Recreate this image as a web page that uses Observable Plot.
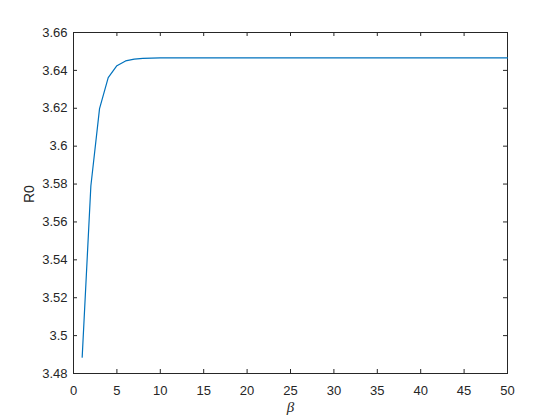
<!DOCTYPE html>
<html>
<head>
<meta charset="utf-8">
<script src="https://cdn.jsdelivr.net/npm/d3@7"></script>
<script src="https://cdn.jsdelivr.net/npm/@observablehq/plot@0.6"></script>
<style>
  html, body { margin: 0; padding: 0; background: #ffffff; }
</style>
</head>
<body>
<div id="chart"></div>
<script>
const beta = [1,2,3,4,5,6,7,8,9,10,11,12,13,14,15,16,17,18,19,20,21,22,23,24,25,26,27,28,29,30,31,32,33,34,35,36,37,38,39,40,41,42,43,44,45,46,47,48,49,50];
const r0 = [3.4886,3.5790,3.6198,3.6362,3.6425,3.6450,3.6459,3.6463,3.6465,3.6466,
            3.6466,3.6466,3.6466,3.6466,3.6466,3.6466,3.6466,3.6466,3.6466,3.6466,
            3.6466,3.6466,3.6466,3.6466,3.6466,3.6466,3.6466,3.6466,3.6466,3.6466,
            3.6466,3.6466,3.6466,3.6466,3.6466,3.6466,3.6466,3.6466,3.6466,3.6466,
            3.6466,3.6466,3.6466,3.6466,3.6466,3.6466,3.6466,3.6466,3.6466,3.6466];
const xTicks = [0,5,10,15,20,25,30,35,40,45,50];
const yTicks = [3.48,3.50,3.52,3.54,3.56,3.58,3.60,3.62,3.64,3.66];
const xLabel = "β";
const yLabel = "R0";

const data = beta.map((b, i) => ({beta: b, r0: r0[i]}));

const W = 560, H = 420, mT = 32, mB = 47, mL = 73, mR = 53;
const innerH = H - mT - mB, innerW = W - mL - mR;
const tickLen = 4;
const axisColor = "#262626";

const chart = Plot.plot({
  width: W,
  height: H,
  marginTop: mT,
  marginBottom: mB,
  marginLeft: mL,
  marginRight: mR,
  style: {fontFamily: "'Liberation Sans', Arial, Helvetica, sans-serif", fontSize: "13px", color: axisColor, background: "#ffffff"},
  x: {domain: [0, 50]},
  y: {domain: [3.48, 3.66]},
  marks: [
    Plot.axisX(xTicks, {tickSize: 0, tickPadding: 12, label: null, fill: axisColor}),
    Plot.axisY(yTicks, {tickSize: 0, tickPadding: 6, label: null, fill: axisColor, tickFormat: d => String(+d.toFixed(2))}),
    Plot.tickX(xTicks, {x: d => d, insetTop: innerH - tickLen, stroke: axisColor}),
    Plot.tickX(xTicks, {x: d => d, insetBottom: innerH - tickLen, stroke: axisColor}),
    Plot.tickY(yTicks, {y: d => d, insetRight: innerW - tickLen, stroke: axisColor}),
    Plot.tickY(yTicks, {y: d => d, insetLeft: innerW - tickLen, stroke: axisColor}),
    Plot.frame({stroke: axisColor}),
    Plot.line(data, {x: "beta", y: "r0", stroke: "#0072BD", strokeWidth: 1.2}),
    Plot.text([yLabel], {text: d => d, frameAnchor: "left", dx: -44, rotate: -90, fontSize: 14, fill: axisColor}),
    Plot.text([xLabel], {text: d => d, frameAnchor: "bottom", dy: 38, fontSize: 15, fontStyle: "italic", fontFamily: "'Liberation Serif', 'DejaVu Serif', serif", fill: axisColor})
  ]
});
document.getElementById("chart").appendChild(chart);
</script>
</body>
</html>
